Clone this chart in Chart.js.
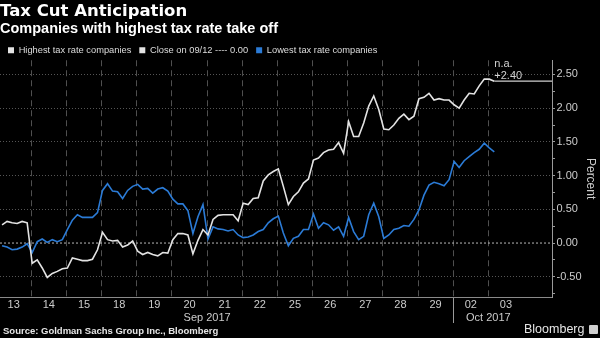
<!DOCTYPE html>
<html lang="en">
<head>
    <meta charset="UTF-8">
    <meta name="viewport" content="width=device-width, initial-scale=1.0">
    <title>Tax Cut Anticipation</title>
    <script src="https://cdn.jsdelivr.net/npm/chart.js"></script>
    <style>
        html, body { margin: 0; padding: 0; background: #000; }
        #wrap { position: relative; width: 600px; height: 338px; overflow: hidden; background: #000; }
        #taxChart { position: absolute; left: 0; top: 0; }
        #source {
            position: absolute; left: 3px; top: 325px;
            font: bold 9.5px/12px "Liberation Sans", Arial, sans-serif; color: #e6e6e6;
        }
        #brand {
            position: absolute; left: 524px; top: 322px;
            font: 12.5px/15px "Liberation Sans", Arial, sans-serif; color: #e6e6e6;
        }
        #brand .logo {
            display: inline-block; width: 9px; height: 9px; margin-left: 5px;
            background: #cfcfcf; border-radius: 1px; vertical-align: -1px;
        }
    </style>
</head>
<body>
<div id="wrap">
    <canvas id="taxChart" width="600" height="338"></canvas>
    <div id="source">Source: Goldman Sachs Group Inc., Bloomberg</div>
    <div id="brand">Bloomberg<span class="logo"></span></div>
</div>

<script>
    // Trading days on the x axis (Sep 13 - Oct 3, 2017)
    const dayLabels = ['13', '14', '15', '18', '19', '20', '21', '22', '25', '26', '27', '28', '29', '02', '03'];
    const monthLabels = ['Sep 2017', 'Oct 2017'];

    // Change since the 09/12 close, percent, 7 readings per trading day
    const highestTax = [
        0.27, 0.32, 0.30, 0.29, 0.32, 0.30, -0.30, -0.25, -0.37, -0.51,
        -0.45, -0.42, -0.38, -0.37, -0.22, -0.24, -0.26, -0.26, -0.24, -0.10,
        0.16, 0.05, 0.03, 0.04, -0.06, -0.03, 0.03, -0.12, -0.17, -0.14,
        -0.17, -0.19, -0.14, -0.15, 0.05, 0.14, 0.14, 0.12, -0.16, 0.04,
        0.20, 0.12, 0.35, 0.41, 0.42, 0.42, 0.42, 0.33, 0.59, 0.57,
        0.66, 0.67, 0.92, 1.01, 1.06, 1.10, 0.84, 0.57, 0.69, 0.76,
        0.89, 0.95, 1.23, 1.26, 1.34, 1.38, 1.39, 1.49, 1.33, 1.80,
        1.58, 1.58, 1.78, 2.03, 2.18, 1.98, 1.69, 1.68, 1.75, 1.85,
        1.91, 1.83, 1.88, 2.14, 2.16, 2.22, 2.12, 2.14, 2.12, 2.12,
        2.05, 2.00, 2.12, 2.22, 2.21, 2.33, 2.43, 2.43, 2.40
    ];
    const lowestTax = [
        -0.04, -0.06, -0.10, -0.09, -0.06, -0.01, -0.14, 0.02, 0.06, 0.01,
        0.05, 0.02, 0.05, 0.20, 0.34, 0.42, 0.38, 0.38, 0.38, 0.45,
        0.78, 0.88, 0.77, 0.76, 0.66, 0.78, 0.84, 0.87, 0.80, 0.81,
        0.74, 0.80, 0.82, 0.77, 0.65, 0.58, 0.58, 0.48, 0.14, 0.39,
        0.57, 0.06, 0.24, 0.21, 0.20, 0.18, 0.20, 0.12, 0.08, 0.09,
        0.12, 0.17, 0.20, 0.30, 0.36, 0.40, 0.15, -0.04, 0.07, 0.10,
        0.20, 0.20, 0.43, 0.22, 0.30, 0.27, 0.19, 0.24, 0.10, 0.38,
        0.17, 0.05, 0.10, 0.42, 0.59, 0.39, 0.07, 0.12, 0.20, 0.22,
        0.26, 0.25, 0.35, 0.49, 0.71, 0.86, 0.90, 0.88, 0.85, 0.94,
        1.21, 1.12, 1.22, 1.28, 1.34, 1.39, 1.48, 1.41, 1.35
    ];
    const closeValue = 0.00;
    const lowestNote = 'n.a.';

    // Right-hand axis values that get a label
    const percentTicks = [-0.5, 0, 0.5, 1, 1.5, 2, 2.5];

    // x runs in trading days: day d covers [d, d + 1)
    const SAMPLES_PER_DAY = 7;
    const SAMPLE_OFFSET = 1.18;
    const X_MIN = 0.11, X_MAX = 15.81;
    const MONTH_BREAK = 13;           // first October session
    const MONTH_TICKS = [6, 14];      // where the month captions hang

    const WHITE = '#e3e3e3';
    const BLUE = '#2b7bd6';

    const xAt = i => (i + SAMPLE_OFFSET) / SAMPLES_PER_DAY;
    const toPoints = arr => arr.map((y, i) => ({ x: xAt(i), y: y }));

    const lastIdx = highestTax.length - 1;
    const lastHigh = highestTax[lastIdx];

    Chart.defaults.font.family = '"Liberation Sans", Arial, sans-serif';
    Chart.defaults.color = '#cccccc';

    // Legend rows are tighter than Chart.js' default spacing
    const legendHeight = {
        id: 'legendHeight',
        beforeInit(chart) {
            const fit = chart.legend.fit;
            chart.legend.fit = function () {
                fit.call(this);
                this.height = 22.65;
            };
        }
    };

    // Last-value tag next to the end of the white series
    const lastValueTag = {
        id: 'lastValueTag',
        afterDatasetsDraw(chart) {
            const meta = chart.getDatasetMeta(0);
            const pt = meta.data[meta.data.length - 1];
            const ctx = chart.ctx;
            ctx.save();
            ctx.font = '11px "Liberation Sans", Arial, sans-serif';
            ctx.fillStyle = '#d0d0d0';
            ctx.textAlign = 'left';
            ctx.textBaseline = 'alphabetic';
            ctx.fillText(lowestNote, pt.x, pt.y - 14.5);
            ctx.fillText('+' + lastHigh.toFixed(2), pt.x, pt.y - 2.5);
            ctx.restore();
        }
    };

    const legendColors = [WHITE, WHITE, BLUE];

    const ctx = document.getElementById('taxChart').getContext('2d');
    const taxChart = new Chart(ctx, {
        type: 'line',
        data: {
            datasets: [{
                label: 'Highest tax rate companies',
                data: toPoints(highestTax),
                borderColor: WHITE,
                borderWidth: 1.6,
                order: 1
            }, {
                label: 'Close on 09/12 ---- ' + closeValue.toFixed(2),
                data: [{ x: X_MIN, y: closeValue }, { x: X_MAX, y: closeValue }],
                borderColor: '#b8b8b8',
                borderWidth: 1,
                borderDash: [2, 2],
                order: 3
            }, {
                label: 'Lowest tax rate companies',
                data: toPoints(lowestTax),
                borderColor: BLUE,
                borderWidth: 1.6,
                order: 2
            }, {
                label: 'last',
                data: [{ x: xAt(lastIdx), y: lastHigh }, { x: X_MAX, y: lastHigh }],
                borderColor: '#cfcfcf',
                borderWidth: 1.2,
                order: 0
            }]
        },
        options: {
            responsive: false,
            animation: false,
            devicePixelRatio: 1,
            layout: { padding: { left: 0, right: 0, top: 0, bottom: 0 } },
            elements: {
                point: { radius: 0, hoverRadius: 0 },
                line: { tension: 0, fill: false }
            },
            plugins: {
                tooltip: { enabled: false },
                title: {
                    display: true,
                    text: 'Tax Cut Anticipation',
                    align: 'start',
                    color: '#ffffff',
                    font: { family: '"DejaVu Sans", sans-serif', size: 16.5, weight: 'bold', lineHeight: 1 },
                    padding: { top: 3, bottom: 0 }
                },
                subtitle: {
                    display: true,
                    text: 'Companies with highest tax rate take off',
                    align: 'start',
                    color: '#ffffff',
                    font: { size: 14.5, weight: 'bold', lineHeight: 1 },
                    padding: { top: 2.6, bottom: 1.0 }
                },
                legend: {
                    display: true,
                    position: 'top',
                    align: 'start',
                    labels: {
                        color: '#dddddd',
                        font: { size: 9.3 },
                        boxWidth: 6,
                        boxHeight: 6,
                        padding: 8,
                        generateLabels(chart) {
                            return Chart.defaults.plugins.legend.labels.generateLabels(chart)
                                .filter(item => item.datasetIndex < 3)
                                .sort((a, b) => a.datasetIndex - b.datasetIndex)
                                .map(item => Object.assign(item, {
                                    fillStyle: legendColors[item.datasetIndex],
                                    strokeStyle: legendColors[item.datasetIndex],
                                    lineWidth: 0,
                                    lineDash: []
                                }));
                        }
                    }
                }
            },
            scales: {
                x: {
                    type: 'linear',
                    min: X_MIN,
                    max: X_MAX,
                    afterBuildTicks(scale) {
                        const ticks = [];
                        dayLabels.forEach((_, d) => {
                            if (d > 0) ticks.push({ value: d });
                            ticks.push({ value: d + 0.5 });
                        });
                        scale.ticks = ticks;
                    },
                    afterFit(scale) { scale.height = 41; },
                    ticks: {
                        autoSkip: false,
                        maxRotation: 0,
                        padding: -24.6,
                        color: '#cccccc',
                        font: { size: 11 },
                        callback(value) {
                            if (Number.isInteger(value)) {
                                const m = MONTH_TICKS.indexOf(value);
                                return m >= 0 ? ['', monthLabels[m]] : '';
                            }
                            return dayLabels[Math.floor(value)];
                        }
                    },
                    grid: {
                        color: c => (c.tick && Number.isInteger(c.tick.value)) ? '#4f4f4f' : 'rgba(0,0,0,0)',
                        tickColor: c => (c.tick && c.tick.value === MONTH_BREAK) ? '#9a9a9a' : 'rgba(0,0,0,0)',
                        tickLength: 26,
                        tickBorderDash: [],
                        lineWidth: 1
                    },
                    border: { display: true, color: '#8a8a8a', width: 1, dash: [6, 4] }
                },
                y: {
                    type: 'linear',
                    position: 'right',
                    min: -0.8,
                    max: 2.71,
                    afterBuildTicks(scale) {
                        const ticks = [];
                        percentTicks.forEach(v => {
                            ticks.push({ value: v - 0.25 });
                            ticks.push({ value: v });
                        });
                        scale.ticks = ticks;
                    },
                    afterFit(scale) { scale.width = 48; },
                    ticks: {
                        padding: 1.5,
                        color: '#cccccc',
                        font: { size: 11 },
                        callback: v => percentTicks.some(p => Math.abs(p - v) < 1e-6) ? v.toFixed(2) : ''
                    },
                    grid: {
                        color: c => {
                            const v = c.tick ? c.tick.value : NaN;
                            return percentTicks.some(p => Math.abs(p - v) < 1e-6) && v !== 0 ? '#555555' : 'rgba(0,0,0,0)';
                        },
                        tickColor: '#9a9a9a',
                        tickLength: 3,
                        tickBorderDash: []
                    },
                    border: { display: true, color: '#9a9a9a', width: 1, dash: [1, 2] },
                    title: {
                        display: true,
                        text: 'Percent',
                        color: '#cccccc',
                        font: { size: 12 },
                        padding: { top: 2, bottom: 2 }
                    }
                }
            }
        },
        plugins: [legendHeight, lastValueTag]
    });
</script>
</body>
</html>
